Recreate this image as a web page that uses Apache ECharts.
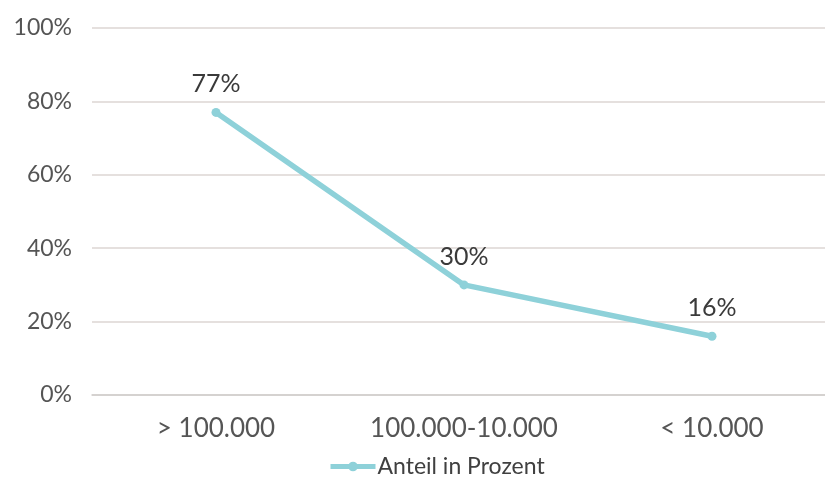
<!DOCTYPE html>
<html>
<head>
<meta charset="utf-8">
<script src="https://cdn.jsdelivr.net/npm/echarts@6/dist/echarts.min.js"></script>
<style>
  html, body { margin: 0; padding: 0; background: #ffffff; }
  #chart { width: 825px; height: 479px; }
</style>
</head>
<body>
<div id="chart"></div>
<script>
// Size classes and share of each in percent
const categories = ['> 100.000', '100.000-10.000', '< 10.000'];
const shareValues = [77, 30, 16];
const seriesName = 'Anteil in Prozent';
const yTicks = [0, 20, 40, 60, 80, 100];

const lineColor = '#8ed1d9';
const fontFamily = 'Lato, "Open Sans", sans-serif';

const chart = echarts.init(document.getElementById('chart'), null, { renderer: 'canvas' });

chart.setOption({
  backgroundColor: '#ffffff',
  animation: false,
  grid: {
    left: 92, top: 28, width: 744, height: 367,
    containLabel: false,
    outerBoundsMode: 'none'
  },
  legend: {
    data: [seriesName],
    top: 455,
    left: 328,
    padding: 0,
    itemWidth: 45,
    itemHeight: 12,
    itemGap: 0,
    lineStyle: { width: 5 },
    textStyle: { fontFamily, fontSize: 23, color: '#404040', padding: [0, 0, 0, -3] }
  },
  xAxis: {
    type: 'category',
    data: categories,
    boundaryGap: true,
    axisLine: { show: true, lineStyle: { color: '#d0cdcb', width: 1.5 } },
    axisTick: { show: false },
    axisLabel: { fontFamily, fontSize: 26, color: '#555555', margin: 21 }
  },
  yAxis: {
    type: 'value',
    min: yTicks[0],
    max: yTicks[yTicks.length - 1],
    interval: yTicks[1] - yTicks[0],
    axisLine: { show: false },
    axisTick: { show: false },
    axisLabel: {
      fontFamily, fontSize: 23, color: '#555555', margin: 20,
      formatter: v => v + '%'
    },
    splitLine: { lineStyle: { color: '#dcd6d3', width: 1.5 } }
  },
  series: [{
    name: seriesName,
    type: 'line',
    data: shareValues,
    symbol: 'circle',
    symbolSize: 9,
    showAllSymbol: true,
    lineStyle: { color: lineColor, width: 5.5 },
    itemStyle: { color: lineColor },
    label: {
      show: true,
      position: 'top',
      distance: 11,
      fontFamily, fontSize: 25, color: '#3a3a3a',
      formatter: p => p.value + '%'
    }
  }]
});
</script>
</body>
</html>
